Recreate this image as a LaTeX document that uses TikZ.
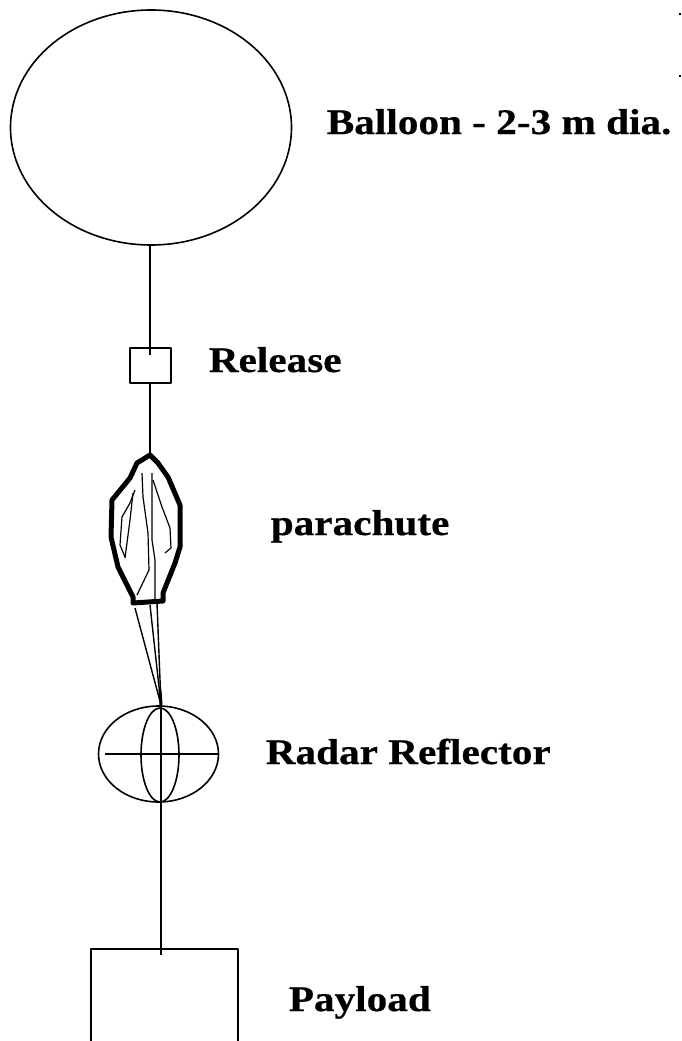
\documentclass[tikz,border=0pt]{standalone}
\usepackage{fontspec}
\setmainfont{Liberation Serif}[FakeStretch=1.145,BoldFeatures={FakeBold=0.5}]
\usetikzlibrary{positioning,shapes.geometric}

\begin{document}
\begin{tikzpicture}[x=1pt,y=-1pt,line width=1.6pt,line join=round]
        \tikzset{part/.style={draw,inner sep=0pt,outer sep=0pt}}
        \tikzset{lbl/.style={anchor=base west,inner sep=0pt,font=\fontsize{36}{36}\selectfont\bfseries}}
        \tikzset{gore/.style={line width=1.2pt}}
        \tikzset{riser/.style={line width=1.4pt}}

        \useasboundingbox (0,0) rectangle (681,1041);
        \clip (0,0) rectangle (681,1041);

        \node[part,ellipse,minimum width=281pt,minimum height=235pt] (B) at (151,127.5) {};
        \node[part,minimum width=41pt,minimum height=35pt,xshift=-0.5pt] (R) [below=103pt of B] {};
        \coordinate (T) at (150,455);
        \coordinate (S1) at (135,608);
        \coordinate (S2) at (150,605);
        \coordinate (S3) at (157,603);
        \node[part,ellipse,minimum width=120pt,minimum height=96pt] (F) at (158.5,754) {};
        \node[part,ellipse,minimum width=38pt,minimum height=94pt] (F_v) at (160,755) {};
        \coordinate (F_t) at (161,705);
        \coordinate (F_b) at (161,802);
        \coordinate (F_l) at (105,754);
        \node[part,minimum width=147pt,minimum height=130pt,anchor=north west] (L) at (91,949) {};
        \coordinate (L_t) at (161,949);

        % text
        \node[lbl] (B_t) at (326,134) {Balloon - 2-3 m dia.};
        \node[lbl] (R_t) at (208,372) {Release};
        \node[lbl] (P_t) at (270,535) {parachute};
        \node[lbl] (F_t2) at (265,764) {Radar Reflector};
        \node[lbl] (L_t2) at (288,1011) {Payload};

        % lines
        \draw (R.north -| T) ++(0,7) -- (T |- B.south);
        \draw (T |- R.south) -- (T);
        \draw (F_t) -- (F_b);
        \draw (F_l) -- (F.east);
        \draw (F_b) -- (L_t) -- ++(0,6);

        % canopy
        \draw[line width=5pt] (T) -- (137,463) -- (130,478) -- (112,500) -- (111,537) -- (118,567)
                -- (133,597) -- (133,603) -- (163,601) -- (163,593) -- (175,563) -- (180,547)
                -- (180,505) -- (168,477) -- (158,463) -- cycle;
        \draw[gore] (152,473) -- (152,540) -- (155,560) -- (155,601);
        \draw[gore] (142,473) -- (143,497) -- (148,533) -- (149,570) -- (137,595);
        \draw[gore] (135,490) -- (130,503) -- (122,517) -- (120,545) -- (125,557);
        \draw[gore] (133,493) -- (130,520) -- (125,558);
        \draw[gore] (153,480) -- (162,507) -- (170,528) -- (171,548) -- (165,553);

        \draw[riser] (S1) -- (F_t);
        \draw[riser] (S2) -- (F_t);
        \draw[riser] (S3) -- (F_t);
        \draw[line width=3pt] (160,690) -- (F_t);

        % ticks cut off at the edge
        \coordinate (E1) at (679,14);
        \coordinate (E2) at (679,76);
        \draw[line width=2pt] (E1) -- ++(2,0);
        \draw[line width=2pt] (E2) -- ++(2,0);
\end{tikzpicture}
\end{document}
